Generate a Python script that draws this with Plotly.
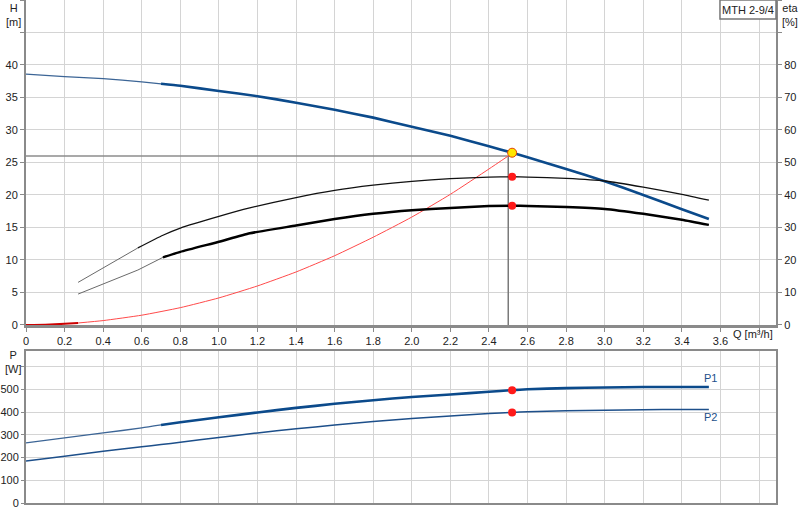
import plotly.graph_objects as go

# ---------------- data ----------------
# Pump head curve H [m] vs Q [m3/h]
q_h = [0, 0.2, 0.4, 0.6, 0.7, 0.8, 1.0, 1.2, 1.4, 1.6, 1.8, 2.0, 2.2, 2.4, 2.52, 2.6, 2.8, 3.0, 3.2, 3.4, 3.54]
h_vals = [38.6, 38.2, 37.9, 37.4, 37.1, 36.8, 36.0, 35.2, 34.2, 33.1, 31.9, 30.5, 29.1, 27.5, 26.5, 25.8, 24.0, 22.1, 20.0, 17.8, 16.3]
h_thick_from = 0.7

# Efficiency curves eta [%]
q_eta = [0.27, 0.58, 0.71, 0.8, 1.0, 1.16, 1.4, 1.6, 1.8, 2.0, 2.2, 2.4, 2.52, 2.6, 2.8, 3.0, 3.2, 3.4, 3.54]
eta_upper = [13.1, 23.7, 27.6, 29.8, 33.4, 36.0, 39.2, 41.4, 43.0, 44.2, 45.0, 45.5, 45.6, 45.5, 45.1, 44.3, 42.4, 40.2, 38.4]
eta_lower = [9.5, 16.9, 20.8, 22.5, 25.6, 28.2, 30.6, 32.6, 34.2, 35.3, 36.0, 36.6, 36.7, 36.6, 36.3, 35.7, 34.2, 32.4, 30.8]
eta_upper_thick_from = 0.58
eta_lower_thick_from = 0.71

# System curve H [m]
q_sys = [0, 0.1, 0.2, 0.27, 0.4, 0.6, 0.8, 1.0, 1.2, 1.4, 1.6, 1.8, 2.0, 2.2, 2.4, 2.5]
h_sys = [0, 0.04, 0.17, 0.30, 0.67, 1.5, 2.66, 4.16, 6.0, 8.15, 10.65, 13.5, 16.6, 20.1, 24.0, 26.0]

# Power curves P [W]
q_p = [0, 0.2, 0.4, 0.6, 0.7, 0.8, 1.0, 1.2, 1.4, 1.6, 1.8, 2.0, 2.2, 2.4, 2.52, 2.6, 2.8, 3.0, 3.2, 3.4, 3.54]
p1_vals = [264, 286, 308, 330, 343, 355, 377, 398, 418, 436, 452, 466, 477, 489, 496, 500, 505, 508, 510, 510, 510]
p2_vals = [185, 206, 227, 247, 257, 267, 288, 308, 326, 343, 358, 372, 382, 393, 398, 401, 405, 408, 410, 411, 411]
p_thick_from = 0.7

# Duty point
duty_q = [2.5]
duty_h = [26.0]
op_q = [2.52]
op_h = [26.5]
op_eta_upper = [45.6]
op_eta_lower = [36.7]
op_p1 = [496]
op_p2 = [398]

title_text = "MTH 2-9/4"
x_ticks = [0, 0.2, 0.4, 0.6, 0.8, 1.0, 1.2, 1.4, 1.6, 1.8, 2.0, 2.2, 2.4, 2.6, 2.8, 3.0, 3.2, 3.4, 3.6, 3.8]
x_labels = ["0", "0.2", "0.4", "0.6", "0.8", "1.0", "1.2", "1.4", "1.6", "1.8", "2.0", "2.2", "2.4", "2.6", "2.8", "3.0", "3.2", "3.4", "3.6", ""]
h_ticks = [0, 5, 10, 15, 20, 25, 30, 35, 40, 45, 50]
h_labels = ["0", "5", "10", "15", "20", "25", "30", "35", "40", "", ""]
eta_ticks = [0, 10, 20, 30, 40, 50, 60, 70, 80, 90, 100]
eta_labels = ["0", "10", "20", "30", "40", "50", "60", "70", "80", "", ""]
p_ticks = [0, 100, 200, 300, 400, 500, 600]
p_labels = ["0", "100", "200", "300", "400", "500", ""]

# ---------------- helpers ----------------
def split(xs, ys, x0):
    thin_x = [x for x in xs if x <= x0]
    thin_y = [y for x, y in zip(xs, ys) if x <= x0]
    thick_x = [x for x in xs if x >= x0]
    thick_y = [y for x, y in zip(xs, ys) if x >= x0]
    return thin_x, thin_y, thick_x, thick_y

BLUE = "#0b4a8b"
THIN_BLUE = "#3c6596"
GRID = "#d4d4d4"
AXIS = "#8a8a8a"
FONT = "Liberation Sans, Arial, sans-serif"

fig = go.Figure()

def line(x, y, color, width, xa="x", ya="y", shape="spline"):
    fig.add_trace(go.Scatter(x=x, y=y, mode="lines", xaxis=xa, yaxis=ya,
                             line=dict(color=color, width=width, shape=shape, smoothing=0.5),
                             hoverinfo="skip", showlegend=False))

# duty lines
line([0, duty_q[0]], [duty_h[0], duty_h[0]], "#8c8c8c", 1.5, shape="linear")
line([duty_q[0], duty_q[0]], [0, duty_h[0]], "#7a7a7a", 1.5, shape="linear")

# efficiency curves (right axis)
tx, ty, kx, ky = split(q_eta, eta_upper, eta_upper_thick_from)
line(tx, ty, "#6a6a6a", 1.0, ya="y2", shape="linear")
line(kx, ky, "#111111", 1.3, ya="y2")
tx, ty, kx, ky = split(q_eta, eta_lower, eta_lower_thick_from)
line(tx, ty, "#6a6a6a", 1.0, ya="y2", shape="linear")
line(kx, ky, "#000000", 2.5, ya="y2")

# system curve
tx, ty, kx, ky = split(q_sys, h_sys, 0.27)
line(tx, ty, "#cc0000", 2.0)
line(kx, ky, "#ff4a4a", 1.0)

# pump head curve
tx, ty, kx, ky = split(q_h, h_vals, h_thick_from)
line(tx, ty, THIN_BLUE, 1.3)
line(kx, ky, BLUE, 2.6)

# power curves
tx, ty, kx, ky = split(q_p, p1_vals, p_thick_from)
line(tx, ty, THIN_BLUE, 1.3, xa="x2", ya="y3")
line(kx, ky, BLUE, 2.6, xa="x2", ya="y3")
line(q_p, p2_vals, "#1d4f8a", 1.5, xa="x2", ya="y3")

# markers
def mk(x, y, xa, ya, color, size, lcolor=None, lw=0, symbol="circle"):
    fig.add_trace(go.Scatter(x=x, y=y, mode="markers", xaxis=xa, yaxis=ya,
                             marker=dict(color=color, size=size, symbol=symbol,
                                         line=dict(color=lcolor or color, width=lw)),
                             hoverinfo="skip", showlegend=False))

mk(duty_q, duty_h, "x", "y", "rgba(0,0,0,0)", 7, "#ff8080", 1, "circle-open")
mk(op_q, op_eta_upper, "x", "y2", "#ff1a1a", 8)
mk(op_q, op_eta_lower, "x", "y2", "#ff1a1a", 8)
mk(op_q, op_h, "x", "y", "#ffe600", 9, "#e04000", 1)
mk(op_q, op_p1, "x2", "y3", "#ff1a1a", 8)
mk(op_q, op_p2, "x2", "y3", "#ff1a1a", 8)

xr = [0, 3.888]
top_dom = [0.354, 1.0]
bot_dom = [0.0, 0.303]
tickfont = dict(family=FONT, size=11, color="#222222")

fig.update_layout(
    width=800, height=520,
    margin=dict(l=26, r=24, t=0, b=17, autoexpand=False),
    paper_bgcolor="white", plot_bgcolor="white",
    font=dict(family=FONT, size=11, color="#222222"),
    xaxis=dict(domain=[0, 1], range=xr, anchor="y", tickvals=x_ticks, ticktext=x_labels,
               showgrid=True, gridcolor=GRID, gridwidth=1, zeroline=False, automargin=False,
               showline=True, linecolor=AXIS, linewidth=3, ticks="outside", ticklen=4,
               tickcolor=AXIS, tickfont=tickfont),
    yaxis=dict(domain=top_dom, range=[0, 50], tickvals=h_ticks, ticktext=h_labels,
               showgrid=True, gridcolor=GRID, gridwidth=1, zeroline=False, automargin=False,
               showline=True, linecolor=AXIS, linewidth=2, ticks="outside", ticklen=4,
               tickcolor=AXIS, tickfont=tickfont),
    yaxis2=dict(range=[0, 100], overlaying="y", side="right", anchor="x", automargin=False,
                tickvals=eta_ticks, ticktext=eta_labels, showgrid=False, zeroline=False,
                showline=True, linecolor=AXIS, linewidth=2, ticks="outside", ticklen=4,
                tickcolor=AXIS, tickfont=tickfont),
    xaxis2=dict(domain=[0, 1], range=xr, anchor="y3", tickvals=x_ticks, showticklabels=False,
                showgrid=True, gridcolor=GRID, gridwidth=1, zeroline=False, automargin=False,
                showline=True, linecolor=AXIS, linewidth=2, mirror=True, ticks=""),
    yaxis3=dict(domain=bot_dom, range=[0, 670], anchor="x2", tickvals=p_ticks, ticktext=p_labels,
                showgrid=True, gridcolor=GRID, gridwidth=1, zeroline=False, automargin=False,
                showline=True, linecolor=AXIS, linewidth=2, mirror=True, ticks="outside",
                ticklen=3, tickcolor=AXIS, tickfont=tickfont),
)

ann = dict(xref="paper", yref="paper", showarrow=False, font=dict(family=FONT, size=11, color="#222222"))
fig.add_annotation(text="H<br>[m]", x=-0.017, y=1.0, xanchor="center", yanchor="top", **ann)
fig.add_annotation(text="eta<br>[%]", x=1.019, y=1.0, xanchor="center", yanchor="top", **ann)
fig.add_annotation(text="P<br>[W]", x=-0.017, y=0.31, xanchor="center", yanchor="top", **ann)
fig.add_annotation(text="Q [m³/h]", x=0.969, y=0.336, xanchor="center", yanchor="middle", **ann)

# title box
fig.add_shape(type="rect", xref="paper", yref="paper", x0=0.9253, x1=1.0, y0=0.962, y1=1.0,
              line=dict(color="#777777", width=1.5), fillcolor="white")
fig.add_annotation(text=title_text, x=0.9627, y=0.981, xanchor="center", yanchor="middle", **ann)

# P1 / P2 labels
fig.add_annotation(text="P1", x=3.55, y=548, xref="x2", yref="y3", showarrow=False,
                   font=dict(family=FONT, size=11, color="#1d4f8a"))
fig.add_annotation(text="P2", x=3.55, y=380, xref="x2", yref="y3", showarrow=False,
                   font=dict(family=FONT, size=11, color="#1d4f8a"))

fig.write_html("out.html", config={"displayModeBar": False},
               post_script="document.body.style.margin='0px';document.body.style.overflow='hidden';")
